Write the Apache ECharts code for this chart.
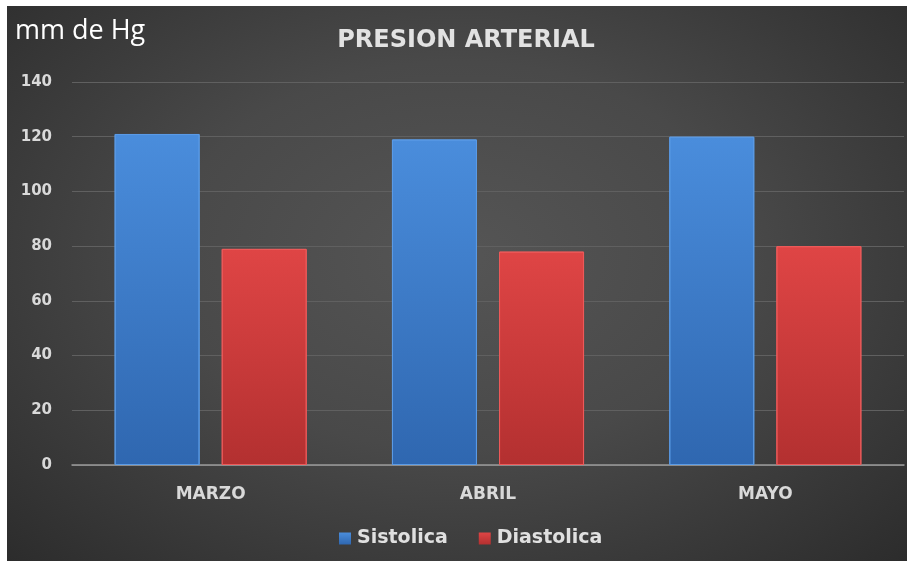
<!DOCTYPE html>
<html><head><meta charset="utf-8">
<script src="https://cdn.jsdelivr.net/npm/echarts@6/dist/echarts.min.js"></script>
<style>
html,body{margin:0;padding:0;background:#fff;width:907px;height:561px;overflow:hidden}
#c{position:absolute;left:7px;top:6px;width:900px;height:555px;
background:radial-gradient(ellipse at 50% 45%, #555555 0%, #494949 45%, #2c2c2c 100%);}
</style></head>
<body><div id="c"></div>
<script>
const categories = ['MARZO','ABRIL','MAYO'];
const sistolica = [121, 119, 120];
const diastolica = [79, 78, 80];
const yTicks = {min:0, max:140, interval:20};
const titleText = 'PRESION ARTERIAL';
const unitText = 'mm de Hg';

const chart = echarts.init(document.getElementById('c'), null, {renderer:'canvas'});
const lbl = {color:'#d9d9d9', fontFamily:'DejaVu Sans', fontWeight:'bold'};
chart.setOption({
  backgroundColor:'transparent',
  graphic:[
    {type:'text', x:459, y:35, style:{text:titleText, fill:'#e2e2e2', align:'center', verticalAlign:'middle',
      font:'bold 24px "DejaVu Sans"', shadowColor:'rgba(0,0,0,0.6)', shadowBlur:3, shadowOffsetY:1}},
    {type:'text', x:8, y:25, style:{text:unitText, fill:'#ffffff', verticalAlign:'middle', font:'27px "Open Sans"'}}
  ],
  legend:{bottom:8, left:327, itemWidth:12, itemHeight:12, itemGap:31, icon:'rect',
    itemStyle:{borderWidth:0},
    textStyle:{color:'#e0e0e0', fontFamily:'DejaVu Sans', fontWeight:'bold', fontSize:19, padding:[0,0,0,1]},
    data:['Sistolica','Diastolica']},
  grid:{left:65, right:3, top:76, bottom:96, containLabel:false},
  xAxis:{type:'category', data:categories,
    axisLine:{lineStyle:{color:'#9a9a9a', width:1.5}}, axisTick:{show:false},
    axisLabel:Object.assign({margin:21, fontSize:17}, lbl)},
  yAxis:{type:'value', min:yTicks.min, max:yTicks.max, interval:yTicks.interval,
    axisLine:{show:false}, axisTick:{show:false},
    splitLine:{lineStyle:{color:'#606060', width:1}},
    axisLabel:Object.assign({margin:20, align:'right', fontSize:15}, lbl)},
  series:[
    {name:'Sistolica', type:'bar', data:sistolica, barWidth:85, barGap:'26%',
     itemStyle:{color:new echarts.graphic.LinearGradient(0,0,0,1,[{offset:0,color:'#4a8ddc'},{offset:1,color:'#2f67b0'}]),
       borderColor:'#5b9be6', borderWidth:1}},
    {name:'Diastolica', type:'bar', data:diastolica, barWidth:85,
     itemStyle:{color:new echarts.graphic.LinearGradient(0,0,0,1,[{offset:0,color:'#df4545'},{offset:1,color:'#b33030'}]),
       borderColor:'#ee5a5a', borderWidth:1}}
  ]
});
</script></body></html>
